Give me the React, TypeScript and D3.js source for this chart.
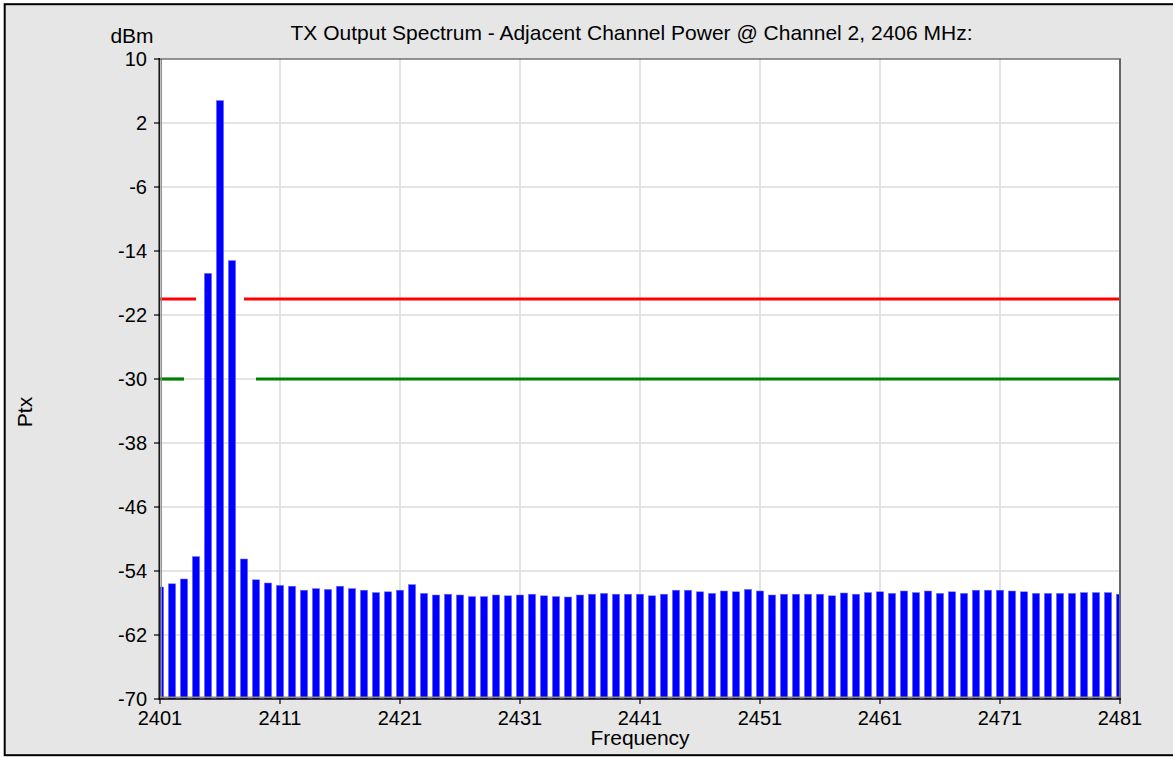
import * as d3 from 'd3'

// spectrum samples, one per MHz from 2401 to 2481
const startFreq = 2401
const ptxValues = [
  -56.0, -55.6, -55.0, -52.2, -16.8, 4.8, -15.2, -52.5, -55.1, -55.5,
  -55.8, -55.9, -56.4, -56.2, -56.3, -55.9, -56.2, -56.4, -56.7, -56.6,
  -56.4, -55.7, -56.8, -57.0, -56.9, -57.0, -57.2, -57.2, -57.0, -57.1,
  -57.0, -56.9, -57.1, -57.2, -57.25, -57.0, -56.9, -56.8, -56.9, -56.9,
  -56.9, -57.1, -56.9, -56.4, -56.4, -56.6, -56.8, -56.5, -56.6, -56.3,
  -56.5, -57.0, -56.9, -56.9, -56.9, -56.9, -57.1, -56.75, -56.9, -56.7,
  -56.6, -56.8, -56.5, -56.7, -56.5, -56.8, -56.6, -56.8, -56.4, -56.4,
  -56.4, -56.5, -56.6, -56.8, -56.8, -56.8, -56.8, -56.7, -56.7, -56.7,
  -56.9,
]
const freqs = ptxValues.map((_, i) => startFreq + i)

const xTicks = [2401, 2411, 2421, 2431, 2441, 2451, 2461, 2471, 2481]
const yTicks = [10, 2, -6, -14, -22, -30, -38, -46, -54, -62, -70]

// limit lines: [from, to, level]
const redLimit = [
  [2401, 2404, -20],
  [2408, 2481, -20],
]
const greenLimit = [
  [2401, 2403, -30],
  [2409, 2481, -30],
]

const W = 1173
const H = 757
const left = 160
const right = 1120
const top = 59
const bottom = 699

export default function App() {
  const x = d3.scaleLinear().domain([2401, 2481]).range([left, right])
  const y = d3.scaleLinear().domain([-70, 10]).range([bottom, top])
  const barW = 7.2
  const font = '"Liberation Sans", Arial, sans-serif'

  return (
    <svg
      width={W}
      height={H}
      style={{ position: 'absolute', left: 0, top: 0, display: 'block' }}
      fontFamily={font}
    >
      <defs>
        <clipPath id="plot-clip">
          <rect x={left} y={top} width={right - left} height={bottom - top} />
        </clipPath>
      </defs>
      <rect x={0} y={0} width={W} height={H} fill="#ffffff" />
      <rect x={4.7} y={4.2} width={W + 20} height={751} fill="#e6e6e6" stroke="#000" strokeWidth={2} />

      {/* plot area */}
      <rect x={left} y={top} width={right - left} height={bottom - top} fill="#ffffff" />

      {/* grid */}
      <g stroke="#dcdcdc" strokeWidth={1.6}>
        {xTicks.slice(1, -1).map((t) => (
          <line key={'gx' + t} x1={x(t)} x2={x(t)} y1={top} y2={bottom} />
        ))}
        {yTicks.slice(1, -1).map((t) => (
          <line key={'gy' + t} x1={left} x2={right} y1={y(t)} y2={y(t)} />
        ))}
      </g>

      {/* bars */}
      <g clipPath="url(#plot-clip)">
        {freqs.map((f, i) => (
          <rect
            key={f}
            x={x(f) - barW / 2}
            y={y(ptxValues[i])}
            width={barW}
            height={y(-70) - y(ptxValues[i])}
            fill="#0000ff"
            stroke="#7070ff"
            strokeWidth={0.5}
          />
        ))}
      </g>

      {/* limit lines */}
      {redLimit.map(([a, b, v], i) => (
        <line key={'r' + i} x1={x(a)} x2={x(b)} y1={y(v)} y2={y(v)} stroke="#ff0000" strokeWidth={3.2} />
      ))}
      {greenLimit.map(([a, b, v], i) => (
        <line key={'g' + i} x1={x(a)} x2={x(b)} y1={y(v)} y2={y(v)} stroke="#008000" strokeWidth={3.2} />
      ))}

      {/* frame */}
      <line x1={left + 1.2} x2={left + 1.2} y1={top} y2={bottom} stroke="#8c8c8c" strokeWidth={1.5} />
      <line x1={left} x2={right} y1={bottom - 1.6} y2={bottom - 1.6} stroke="#8c8c8c" strokeWidth={1.6} />
      <line x1={left} x2={right + 1} y1={top} y2={top} stroke="#333" strokeWidth={1.2} />
      <line x1={right} x2={right} y1={top} y2={bottom} stroke="#666" strokeWidth={2} />
      <line x1={left - 0.8} x2={left - 0.8} y1={top - 1} y2={bottom + 1} stroke="#000" strokeWidth={1.4} />
      <line x1={left - 1} x2={right + 1} y1={bottom} y2={bottom} stroke="#000" strokeWidth={1.4} />

      {/* y axis */}
      {yTicks.map((t) => (
        <g key={'yt' + t}>
          <line x1={left - 6} x2={left} y1={y(t)} y2={y(t)} stroke="#000" strokeWidth={1.2} />
          <text x={147} y={y(t)} dy="0.35em" textAnchor="end" fontSize={20} fill="#000">
            {t}
          </text>
        </g>
      ))}

      {/* x axis */}
      {xTicks.map((t) => (
        <g key={'xt' + t}>
          <line x1={x(t)} x2={x(t)} y1={bottom} y2={bottom + 5} stroke="#000" strokeWidth={1.2} />
          <text x={x(t)} y={725} textAnchor="middle" fontSize={20} fill="#000">
            {t}
          </text>
        </g>
      ))}

      <text x={631.5} y={39.5} textAnchor="middle" fontSize={21} fill="#000">
        TX Output Spectrum - Adjacent Channel Power @ Channel 2, 2406 MHz:
      </text>
      <text x={132} y={42.5} textAnchor="middle" fontSize={21} fill="#000">
        dBm
      </text>
      <text x={640} y={745} textAnchor="middle" fontSize={21} fill="#000">
        Frequency
      </text>
      <text
        transform="translate(31.5,412) rotate(-90)"
        textAnchor="middle"
        fontSize={21}
        fill="#000"
      >
        Ptx
      </text>
    </svg>
  )
}
